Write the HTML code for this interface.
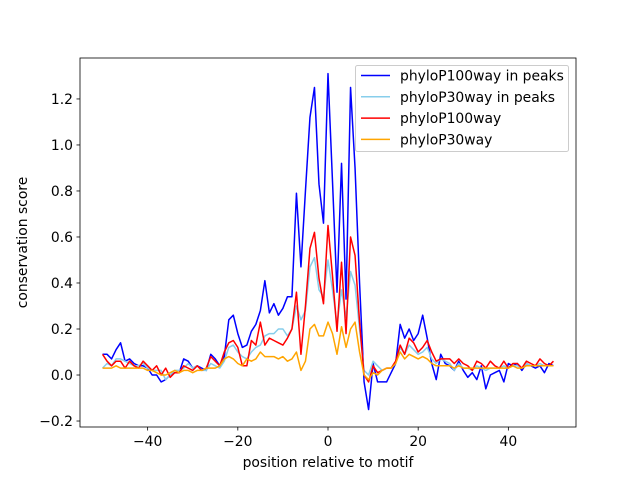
<!DOCTYPE html>
<html><head><meta charset="utf-8"><style>body{margin:0;background:#fff}svg{display:block;font-family:"DejaVu Sans","Liberation Sans",sans-serif}</style></head>
<body>
<svg id="chart" width="640" height="480"></svg>
<script>
const positions = [];
for (let p = -50; p <= 50; p++) positions.push(p);
const blueVals = [0.09,0.09,0.07,0.11,0.14,0.06,0.07,0.05,0.04,0.04,0.03,0.0,0.0,-0.03,-0.02,0.0,0.01,0.01,0.07,0.06,0.03,0.04,0.03,0.02,0.09,0.07,0.04,0.08,0.24,0.26,0.18,0.12,0.13,0.19,0.22,0.28,0.41,0.27,0.31,0.26,0.29,0.34,0.34,0.79,0.47,0.8,1.12,1.25,0.83,0.66,1.31,0.84,0.36,0.92,0.33,1.25,0.9,0.4,-0.03,-0.15,0.05,-0.03,-0.03,-0.03,0.01,0.05,0.22,0.16,0.2,0.15,0.18,0.26,0.16,0.05,-0.02,0.09,0.05,0.04,0.02,0.06,0.02,-0.01,0.01,-0.02,0.04,-0.06,0.0,0.01,0.02,-0.03,0.05,0.04,0.05,0.02,0.05,0.04,0.03,0.04,0.01,0.05,0.04];
const lightVals = [0.03,0.05,0.04,0.07,0.07,0.06,0.05,0.04,0.04,0.05,0.03,0.02,0.02,0.02,-0.02,0.0,0.02,0.02,0.03,0.05,0.03,0.04,0.02,0.02,0.05,0.04,0.03,0.06,0.12,0.13,0.1,0.08,0.07,0.1,0.12,0.13,0.17,0.18,0.18,0.2,0.2,0.17,0.2,0.3,0.24,0.28,0.47,0.51,0.37,0.34,0.5,0.37,0.22,0.37,0.25,0.45,0.39,0.2,0.02,0.0,0.06,0.04,0.02,0.03,0.03,0.05,0.12,0.09,0.13,0.11,0.09,0.1,0.12,0.07,0.05,0.07,0.06,0.05,0.02,0.05,0.03,0.03,0.02,0.04,0.03,0.02,0.03,0.03,0.03,0.04,0.03,0.04,0.04,0.03,0.05,0.04,0.04,0.05,0.04,0.04,0.04];
const redVals = [0.09,0.06,0.04,0.06,0.06,0.03,0.06,0.04,0.03,0.06,0.04,0.02,0.04,0.0,0.03,-0.01,0.01,0.01,0.04,0.03,0.02,0.04,0.02,0.03,0.08,0.06,0.04,0.1,0.14,0.15,0.12,0.04,0.04,0.15,0.13,0.23,0.13,0.16,0.15,0.14,0.13,0.16,0.2,0.36,0.09,0.3,0.55,0.62,0.42,0.31,0.65,0.43,0.19,0.49,0.18,0.6,0.52,0.23,0.0,-0.03,0.04,0.01,0.02,0.03,0.03,0.06,0.13,0.09,0.16,0.14,0.1,0.12,0.15,0.1,0.06,0.07,0.07,0.07,0.05,0.07,0.05,0.04,0.02,0.06,0.05,0.03,0.06,0.04,0.03,0.06,0.03,0.05,0.05,0.03,0.06,0.05,0.04,0.07,0.05,0.04,0.06];
const orangeVals = [0.03,0.03,0.03,0.04,0.03,0.03,0.03,0.03,0.03,0.03,0.02,0.02,0.01,0.0,0.0,0.01,0.02,0.01,0.02,0.02,0.01,0.02,0.02,0.03,0.03,0.03,0.04,0.07,0.08,0.07,0.05,0.04,0.07,0.06,0.07,0.1,0.08,0.08,0.08,0.07,0.08,0.06,0.07,0.1,0.02,0.06,0.2,0.22,0.17,0.17,0.23,0.18,0.09,0.21,0.12,0.2,0.23,0.1,0.0,-0.02,0.01,0.0,0.02,0.03,0.03,0.05,0.1,0.07,0.09,0.08,0.07,0.08,0.07,0.05,0.04,0.04,0.04,0.04,0.03,0.04,0.03,0.03,0.03,0.03,0.03,0.03,0.03,0.03,0.03,0.03,0.03,0.04,0.03,0.03,0.04,0.04,0.04,0.04,0.04,0.04,0.04];
const xTicks = [-40,-20,0,20,40];
const yTicks = [-0.2,0.0,0.2,0.4,0.6,0.8,1.0,1.2];
const seriesNames = ["phyloP100way in peaks","phyloP30way in peaks","phyloP100way","phyloP30way"];

const NS = "http://www.w3.org/2000/svg";
const svg = document.getElementById('chart');
const L=80,R=576,T=58,B=427;
const X0=-55,X1=55,Y0=-0.226,Y1=1.378;
const FS=13.9;
const sx = v => L + (v - X0) / (X1 - X0) * (R - L);
const sy = v => B - (v - Y0) / (Y1 - Y0) * (B - T);
function mk(tag, attrs, parent){const e=document.createElementNS(NS,tag);for(const k in attrs)e.setAttribute(k,attrs[k]);(parent||svg).appendChild(e);return e;}

const series = [
 {vals: blueVals, color:'#0000ff', name:'series-phylop100way-in-peaks'},
 {vals: lightVals, color:'#87ceeb', name:'series-phylop30way-in-peaks'},
 {vals: redVals, color:'#ff0000', name:'series-phylop100way'},
 {vals: orangeVals, color:'#ffa500', name:'series-phylop30way'}
];
series.forEach(s=>{
  const d = s.vals.map((v,i)=>(i?'L':'M')+sx(positions[i]).toFixed(2)+','+sy(v).toFixed(2)).join(' ');
  const p = mk('path',{d:d,fill:'none',stroke:s.color,'stroke-width':1.5,'stroke-linejoin':'round'});
  
  
});

const frame = mk('rect',{x:L,y:T,width:R-L,height:B-T,fill:'none',stroke:'#000','stroke-width':0.8});



xTicks.forEach(t=>{
  const x=sx(t);
  mk('line',{x1:x,x2:x,y1:B,y2:B+3.5,stroke:'#000','stroke-width':0.8});
  const tx = mk('text',{x:x,y:B+19,'text-anchor':'middle','font-size':FS});
  tx.textContent = t===0?'0':(t<0?'\u2212'+(-t):String(t));
  
  
});
yTicks.forEach(t=>{
  const y=sy(t);
  mk('line',{x1:L-3.5,x2:L,y1:y,y2:y,stroke:'#000','stroke-width':0.8});
  const tx = mk('text',{x:L-7,y:y+5,'text-anchor':'end','font-size':FS});
  tx.textContent = (t<0?'\u2212':'')+Math.abs(t).toFixed(1);
  
  
});

const xt = mk('text',{x:(L+R)/2,y:467,'text-anchor':'middle','font-size':FS});
xt.textContent='position relative to motif';


const yt = mk('text',{x:0,y:0,'text-anchor':'middle','font-size':FS,transform:'translate(27,'+((T+B)/2)+') rotate(-90)'});
yt.textContent='conservation score';



const lg = mk('g',{});


mk('rect',{x:355.5,y:65.5,width:213,height:86,rx:2,fill:'#fff','fill-opacity':0.8,stroke:'#ccc','stroke-width':1},lg);
series.forEach((s,i)=>{
  const y = 75.5 + i*21.3;
  const ln = mk('line',{x1:361,x2:390,y1:y,y2:y,stroke:s.color,'stroke-width':1.5},lg);
  
  
  const tx = mk('text',{x:400,y:y+5,'font-size':FS},lg);
  tx.textContent = seriesNames[i];
  
  
});
</script>
</body></html>
